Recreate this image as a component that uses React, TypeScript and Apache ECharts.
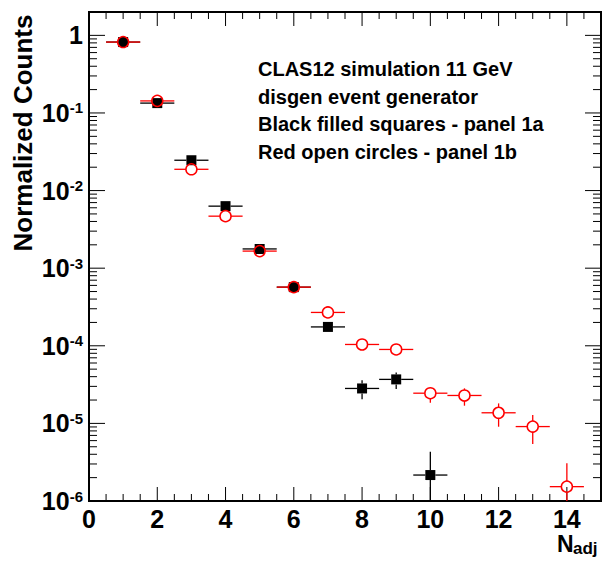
import React, { useEffect, useRef } from "react";
import * as echarts from "echarts";

// ---- data ----
const panel1aX = [1, 2, 3, 4, 5, 6, 7, 8, 9, 10];
const panel1aY = [0.82, 0.134, 0.0246, 0.0063, 0.00177, 0.00057, 1.75e-4, 2.82e-5, 3.69e-5, 2.16e-6];
const panel1aLow = [0.82, 0.134, 0.0246, 0.0063, 0.00177, 0.00057, 1.75e-4, 2.04e-5, 2.77e-5, 1e-7];
const panel1aHigh = [0.82, 0.134, 0.0246, 0.0063, 0.00177, 0.00057, 1.75e-4, 3.61e-5, 4.54e-5, 4.31e-6];

const panel1bX = [1, 2, 3, 4, 5, 6, 7, 8, 9, 10, 11, 12, 13, 14];
const panel1bY = [0.82, 0.143, 0.0188, 0.00468, 0.00166, 0.00057, 2.69e-4, 1.04e-4, 8.97e-5, 2.45e-5, 2.29e-5, 1.37e-5, 9.1e-6, 1.53e-6];
const panel1bLow = [0.82, 0.143, 0.0188, 0.00468, 0.00166, 0.00057, 2.69e-4, 1.04e-4, 8.97e-5, 1.85e-5, 1.69e-5, 9.06e-6, 5.42e-6, 1e-7];
const panel1bHigh = [0.82, 0.143, 0.0188, 0.00468, 0.00166, 0.00057, 2.69e-4, 1.04e-4, 8.97e-5, 2.91e-5, 2.83e-5, 1.81e-5, 1.28e-5, 3.06e-6];

const binHalfWidth = 0.5;

const xMin = 0;
const xMax = 15;
const xLabelInterval = 2;
const xTickSteps = [0, 0.5, 1, 1.5, 2, 2.5, 3, 3.5, 4, 4.5, 5, 5.5, 6, 6.5, 7, 7.5, 8, 8.5, 9, 9.5, 10, 10.5, 11, 11.5, 12, 12.5, 13, 13.5, 14, 14.5, 15];
const yMin = 1e-6;
const yMax = 2;
const yDecades = [-6, -5, -4, -3, -2, -1, 0];
const yMultipliers = [1, 2, 3, 4, 5, 6, 7, 8, 9];

const infoLines = [
  "CLAS12 simulation 11 GeV",
  "disgen event generator",
  "Black filled squares - panel 1a",
  "Red open circles - panel 1b",
];

const FONT = "'Liberation Sans', Arial, Helvetica, sans-serif";

export default function App() {
  const ref = useRef<HTMLDivElement>(null);

  useEffect(() => {
    document.body.style.margin = "0";
    if (!ref.current) return;
    const chart = echarts.init(ref.current, undefined, { renderer: "svg" });

    const aData = panel1aX.map((x, i) => [x, panel1aY[i], panel1aLow[i], panel1aHigh[i]]);
    const bData = panel1bX.map((x, i) => [x, panel1bY[i], panel1bLow[i], panel1bHigh[i]]);

    const yTicks: number[][] = [];
    yDecades.forEach((d) => {
      yMultipliers.forEach((m) => {
        const v = m * Math.pow(10, d);
        if (v <= yMax * 1.0000001) yTicks.push([xMin, v, m === 1 ? 1 : 0]);
      });
    });
    const xTicks = xTickSteps.map((x) => [x, yMin, x % 2 === 0 ? 1 : 0]);

    const makeErrRender = (color: string, marker: "square" | "circle") =>
      (params: any, api: any) => {
        const x = api.value(0);
        const y = api.value(1);
        const lo = api.value(2);
        const hi = api.value(3);
        const cs = params.coordSys;
        const c = api.coord([x, y]);
        const l = api.coord([x - binHalfWidth, y]);
        const r = api.coord([x + binHalfWidth, y]);
        const t = api.coord([x, hi]);
        const b = api.coord([x, lo]);
        const bottomY = Math.min(b[1], cs.y + cs.height);
        const topY = Math.max(t[1], cs.y);
        const R = marker === "circle" ? 5.5 : 5;
        const lw = 1.3;
        const children: any[] = [];
        const seg = (x1: number, y1: number, x2: number, y2: number) =>
          children.push({
            type: "line",
            shape: { x1, y1, x2, y2 },
            style: { stroke: color, lineWidth: lw },
          });
        seg(l[0], c[1], c[0] - R, c[1]);
        seg(c[0] + R, c[1], r[0], c[1]);
        if (c[1] - topY > R) seg(c[0], topY, c[0], c[1] - R);
        if (bottomY - c[1] > R) seg(c[0], c[1] + R, c[0], bottomY);
        if (marker === "square") {
          children.push({
            type: "rect",
            shape: { x: c[0] - 5, y: c[1] - 5, width: 10, height: 10 },
            style: { fill: color },
          });
        } else {
          children.push({
            type: "circle",
            shape: { cx: c[0], cy: c[1], r: R },
            style: { fill: "none", stroke: color, lineWidth: 1.5 },
          });
        }
        return { type: "group", children };
      };

    const yTickRender = (params: any, api: any) => {
      const v = api.value(1);
      const major = api.value(2) === 1;
      const len = major ? 16 : 8;
      const pl = api.coord([xMin, v]);
      const pr = api.coord([xMax, v]);
      return {
        type: "group",
        children: [
          { type: "line", shape: { x1: pl[0], y1: pl[1], x2: pl[0] + len, y2: pl[1] }, style: { stroke: "#000", lineWidth: 1 } },
          { type: "line", shape: { x1: pr[0], y1: pr[1], x2: pr[0] - len, y2: pr[1] }, style: { stroke: "#000", lineWidth: 1 } },
        ],
      };
    };

    const xTickRender = (params: any, api: any) => {
      const x = api.value(0);
      const major = api.value(2) === 1;
      const len = major ? 14 : 7;
      const pb = api.coord([x, yMin]);
      const pt = api.coord([x, yMax]);
      return {
        type: "group",
        children: [
          { type: "line", shape: { x1: pb[0], y1: pb[1], x2: pb[0], y2: pb[1] - len }, style: { stroke: "#000", lineWidth: 1 } },
          { type: "line", shape: { x1: pt[0], y1: pt[1], x2: pt[0], y2: pt[1] + len }, style: { stroke: "#000", lineWidth: 1 } },
        ],
      };
    };

    const option: any = {
      animation: false,
      backgroundColor: "#fff",
      grid: {
        left: 89,
        right: 4,
        top: 12,
        bottom: 64,
        show: true,
        borderColor: "#000",
        borderWidth: 2,
        backgroundColor: "transparent",
      },
      xAxis: {
        type: "value",
        min: xMin,
        max: xMax,
        interval: xLabelInterval,
        axisLine: { show: false },
        axisTick: { show: false },
        splitLine: { show: false },
        axisLabel: {
          margin: 8,
          showMaxLabel: false,
          fontSize: 25,
          lineHeight: 20,
          fontWeight: "bold",
          fontFamily: FONT,
          color: "#000",
        },
      },
      yAxis: {
        type: "log",
        logBase: 10,
        min: yMin,
        max: yMax,
        axisLine: { show: false },
        axisTick: { show: false },
        splitLine: { show: false },
        axisLabel: {
          margin: 6,
          formatter: (v: number) => {
            const e = Math.log10(v);
            const r = Math.round(e);
            if (Math.abs(e - r) > 1e-6) return "";
            if (r === 0) return "{a|1}";
            return `{a|10}{b|${r}}`;
          },
          rich: {
            a: { fontSize: 25, fontWeight: "bold", fontFamily: FONT, color: "#000" },
            b: { fontSize: 15, fontWeight: "bold", fontFamily: FONT, color: "#000", verticalAlign: "top" },
          },
        },
      },
      series: [
        { type: "custom", name: "yTicks", renderItem: yTickRender, data: yTicks, silent: true, z: 1 },
        { type: "custom", name: "xTicks", renderItem: xTickRender, data: xTicks, silent: true, z: 1 },
        { type: "custom", name: "panel 1a", renderItem: makeErrRender("#000000", "square"), data: aData, z: 3 },
        { type: "custom", name: "panel 1b", renderItem: makeErrRender("#ff0000", "circle"), data: bData, z: 4 },
      ],
      graphic: [
        ...infoLines.map((t, i) => ({
          type: "text",
          left: 258,
          top: 59 + i * 27.6,
          style: { text: t, fontSize: 20, fontWeight: "bold", fontFamily: FONT, fill: "#000" },
        })),
        {
          type: "text",
          x: 22.5,
          y: 133,
          rotation: Math.PI / 2,
          style: {
            text: "Normalized Counts",
            fontSize: 26,
            fontWeight: "bold",
            fontFamily: FONT,
            fill: "#000",
            align: "center",
            verticalAlign: "middle",
          },
        },
        {
          type: "text",
          x: 557,
          y: 544,
          style: { text: "N", fontSize: 23, lineHeight: 18, fontWeight: "bold", fontFamily: FONT, fill: "#000", verticalAlign: "middle" },
        },
        {
          type: "text",
          x: 573,
          y: 548,
          style: { text: "adj", fontSize: 17, lineHeight: 14, fontWeight: "bold", fontFamily: FONT, fill: "#000", verticalAlign: "middle" },
        },
      ],
    };

    chart.setOption(option);
    return () => chart.dispose();
  }, []);

  return <div ref={ref} style={{ width: 605, height: 565 }} />;
}
